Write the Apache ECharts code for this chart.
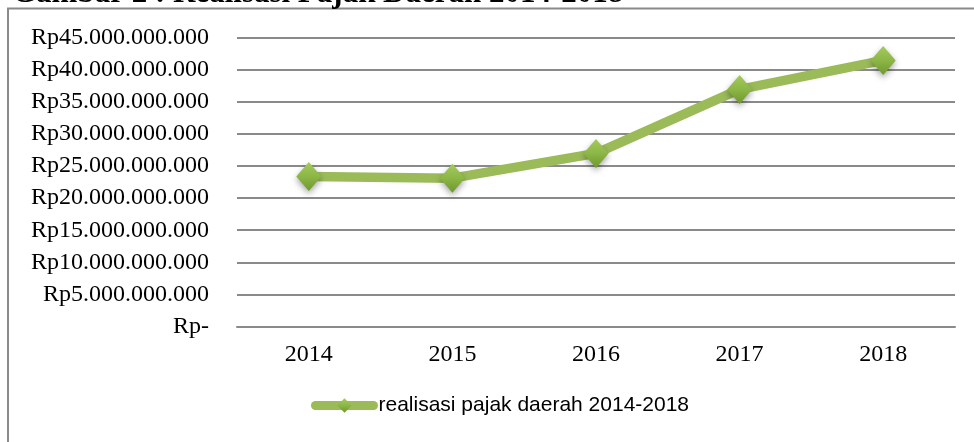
<!DOCTYPE html>
<html>
<head>
<meta charset="utf-8">
<script src="https://cdn.jsdelivr.net/npm/echarts@6/dist/echarts.min.js"></script>
<style>
  html, body { margin: 0; padding: 0; background: #fff; }
  #chart { width: 974px; height: 442px; }
</style>
</head>
<body>
<div id="chart"></div>
<script>
const years = ['2014', '2015', '2016', '2017', '2018']
// realisasi pajak daerah, rupiah
const realisasi = [23350000000, 23100000000, 26950000000, 36900000000, 41400000000]
const yTicks = [0, 5e9, 10e9, 15e9, 20e9, 25e9, 30e9, 35e9, 40e9, 45e9]
const seriesName = 'realisasi pajak daerah 2014-2018'
const titleText = 'Gambar 2 : Realisasi Pajak Daerah 2014-2018'

function formatRp(v) {
  if (v === 0) return 'Rp-'
  return 'Rp' + String(Math.round(v)).replace(/\B(?=(\d{3})+(?!\d))/g, '.')
}

const chart = echarts.init(document.getElementById('chart'))

const option = {
  backgroundColor: '#ffffff',
  animation: false,
  graphic: [
    {
      type: 'rect',
      shape: { x: 8, y: 8.5, width: 1000, height: 500 },
      style: { fill: 'none', stroke: '#8a8a8a', lineWidth: 2 },
      z: 0
    },
    {
      type: 'text',
      x: 12,
      y: 9,
      style: {
        text: titleText,
        font: 'bold 31px "Liberation Serif", "Times New Roman", serif',
        fill: '#000',
        verticalAlign: 'bottom',
        lineHeight: 31
      }
    }
  ],
  grid: { left: 237, right: 19, top: 37.3, bottom: 115.3, containLabel: false },
  legend: {
    data: [seriesName],
    left: 306,
    top: 390,
    itemWidth: 58,
    itemHeight: 18,
    textStyle: {
      fontFamily: '"Liberation Sans", Arial, sans-serif',
      fontSize: 21,
      color: '#000'
    },
    lineStyle: { width: 9, cap: 'round' }
  },
  xAxis: {
    type: 'category',
    data: years,
    boundaryGap: true,
    axisLine: { show: true, lineStyle: { color: '#8a8a8a', width: 2 } },
    axisTick: { show: false },
    axisLabel: {
      margin: 16,
      color: '#000',
      fontFamily: '"Liberation Serif", "Times New Roman", serif',
      fontSize: 24
    }
  },
  yAxis: {
    type: 'value',
    min: yTicks[0],
    max: yTicks[yTicks.length - 1],
    interval: yTicks[1] - yTicks[0],
    axisLine: { show: false },
    axisTick: { show: false },
    splitLine: { lineStyle: { color: '#8a8a8a', width: 2 } },
    axisLabel: {
      margin: 28,
      color: '#000',
      fontFamily: '"Liberation Serif", "Times New Roman", serif',
      fontSize: 24,
      formatter: formatRp
    }
  },
  series: [
    {
      name: seriesName,
      type: 'line',
      data: realisasi,
      symbol: 'diamond',
      symbolSize: [25, 29],
      lineStyle: { color: '#9bbb59', width: 9.5, cap: 'round', join: 'round' },
      itemStyle: {
        color: new echarts.graphic.LinearGradient(0, 0, 0, 1, [
          { offset: 0, color: '#a3cb5e' },
          { offset: 0.5, color: '#8cb646' },
          { offset: 1, color: '#6e9a2c' }
        ]),
        shadowColor: 'rgba(0,0,0,0.35)',
        shadowBlur: 6,
        shadowOffsetY: 3
      },
      z: 3
    }
  ]
}

chart.setOption(option)
</script>
</body>
</html>
